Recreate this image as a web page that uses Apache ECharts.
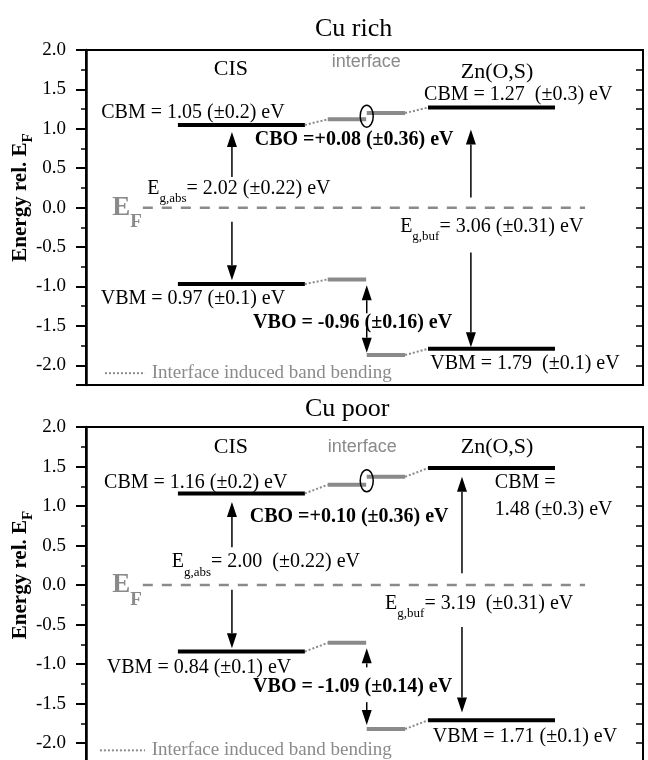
<!DOCTYPE html>
<html><head><meta charset="utf-8">
<script src="https://cdn.jsdelivr.net/npm/echarts@6/dist/echarts.min.js"></script>
<style>html,body{margin:0;padding:0;overflow:hidden;background:#fff}#c{width:648px;height:770px}</style>
</head><body><div id="c"></div>
<script>
// ---------- data ----------
const panelTitles = ['Cu rich', 'Cu poor'];
const yMin = -2.25, yMax = 2.0;
const cisCBM = [1.05, 1.16];
const cisVBM = [-0.97, -0.84];
const znCBM = [1.27, 1.48];
const znVBM = [-1.79, -1.71];
const ifCB1 = [1.12, 1.27];   // interface CB, absorber side (bent)
const ifCB2 = [1.20, 1.37];   // interface CB, buffer side (bent)
const ifVB1 = [-0.91, -0.73];
const ifVB2 = [-1.87, -1.82];
// arrows [from, to] in energy
const cisArrowUp = [[0.39, 0.96], [0.48, 1.05]];
const cisArrowDown = [[-0.18, -0.92], [-0.06, -0.80]];
const znArrowUp = [[0.13, 0.99], [0.15, 1.37]];
const znArrowDown = [[-0.57, -1.77], [-0.53, -1.61]];
const vboArrowUp = [[-1.34, -0.985], [-1.04, -0.80]];
const vboArrowDown = [[-1.52, -1.84], [-1.48, -1.77]];
// texts
const cisCbmText = ['CBM = 1.05 (±0.2) eV', 'CBM = 1.16 (±0.2) eV'];
const cisVbmText = ['VBM = 0.97 (±0.1) eV', 'VBM = 0.84 (±0.1) eV'];
const znCbmText = ['CBM = 1.27  (±0.3) eV', 'CBM =\n1.48 (±0.3) eV'];
const znVbmText = ['VBM = 1.79  (±0.1) eV', 'VBM = 1.71 (±0.1) eV'];
const cboText = ['CBO =+0.08 (±0.36) eV', 'CBO =+0.10 (±0.36) eV'];
const vboText = ['VBO = -0.96 (±0.16) eV', 'VBO = -1.09 (±0.14) eV'];
const egAbsText = ['= 2.02 (±0.22) eV', '= 2.00  (±0.22) eV'];
const egBufText = ['= 3.06 (±0.31) eV', '= 3.19  (±0.31) eV'];
const legendText = 'Interface induced band bending';

// ---------- layout (x in 0..100 schematic units) ----------
const X = {cisL: 16.5, cisR: 39.3, if1L: 43.4, if1R: 50.3, if2L: 50.4, if2R: 57.3,
           znL: 61.4, znR: 84.2, cisArrow: 26.2, ifArrow: 50.4, znArrow: [69.1, 67.5],
           efL: 10.2, efR: 89.6};
const LBL = [
  {cis: [26.0, 1.75], iface: [50.3, 1.85], zn: [73.8, 1.72], cisCbm: [19.2, 1.20], znCbm: [77.6, 1.43, 'center'],
   cbo: [30.3, 0.86], egAbs: [11.0, 0.24], ef: [4.7, 0], egBuf: [56.4, -0.24], cisVbm: [19.2, -1.15],
   vbo: [30.0, -1.455], znVbm: [78.8, -1.975], legend: [3.4, 10.6, 11.8, -2.10]},
  {cis: [26.0, 1.75], iface: [49.6, 1.75], zn: [73.8, 1.75], cisCbm: [19.7, 1.30], znCbm: [73.4, 1.12, 'left'],
   cbo: [29.4, 0.86], egAbs: [15.4, 0.29], ef: [4.7, 0], egBuf: [53.7, -0.23], cisVbm: [20.3, -1.04],
   vbo: [30.0, -1.29], znVbm: [78.8, -1.92], legend: [2.5, 10.6, 11.8, -2.09]}
];
const FONT = 'Liberation Serif';
const GRAY = '#8a8a8a';

function makeRender(p) {
  return function (params, api) {
    const ch = [];
    const pt = (x, y) => api.coord([x, y]);
    function seg(x1, y1, x2, y2, stroke, lw, dash) {
      const a = pt(x1, y1), b = pt(x2, y2);
      const style = {stroke: stroke, lineWidth: lw, fill: null};
      if (dash) style.lineDash = dash;
      ch.push({type: 'line', shape: {x1: a[0], y1: a[1], x2: b[0], y2: b[1]}, style: style});
    }
    function arrow(x, yr, lw) {
      const a = pt(x, yr[0]), b = pt(x, yr[1]);
      const dir = b[1] > a[1] ? 1 : -1;
      const L = 15, W = 5;
      ch.push({type: 'line', shape: {x1: a[0], y1: a[1], x2: b[0], y2: b[1] - dir * L},
               style: {stroke: '#000', lineWidth: lw}});
      ch.push({type: 'polygon', shape: {points: [[b[0], b[1]], [b[0] - W, b[1] - dir * L], [b[0] + W, b[1] - dir * L]]},
               style: {fill: '#000'}});
    }
    function text(pos, str, st) {
      const a = pt(pos[0], pos[1]);
      ch.push({type: 'text', x: a[0], y: a[1], style: Object.assign({
        text: str, fill: '#000', fontFamily: FONT, fontSize: 20, align: 'center', verticalAlign: 'middle'}, st || {})});
    }
    const L = LBL[p];
    // Fermi level
    seg(X.efL, 0, X.efR, 0, GRAY, 2.5, [10, 9]);
    // band levels
    seg(X.cisL, cisCBM[p], X.cisR, cisCBM[p], '#000', 4);
    seg(X.cisL, cisVBM[p], X.cisR, cisVBM[p], '#000', 4);
    seg(X.znL, znCBM[p], X.znR, znCBM[p], '#000', 4);
    seg(X.znL, znVBM[p], X.znR, znVBM[p], '#000', 4);
    // band bending connectors
    seg(X.cisR, cisCBM[p], X.if1L, ifCB1[p], GRAY, 2, [2, 2]);
    seg(X.if2R, ifCB2[p], X.znL, znCBM[p], GRAY, 2, [2, 2]);
    seg(X.cisR, cisVBM[p], X.if1L, ifVB1[p], GRAY, 2, [2, 2]);
    seg(X.if2R, ifVB2[p], X.znL, znVBM[p], GRAY, 2, [2, 2]);
    // interface levels
    seg(X.if1L, ifCB1[p], X.if1R, ifCB1[p], GRAY, 4);
    seg(X.if2L, ifCB2[p], X.if2R, ifCB2[p], GRAY, 4);
    seg(X.if1L, ifVB1[p], X.if1R, ifVB1[p], GRAY, 4);
    seg(X.if2L, ifVB2[p], X.if2R, ifVB2[p], GRAY, 4);
    // ellipse at CB junction
    const ec = pt(X.ifArrow, (ifCB1[p] + ifCB2[p]) / 2);
    ch.push({type: 'ellipse', shape: {cx: ec[0], cy: ec[1], rx: 6.5, ry: 11}, style: {fill: null, stroke: '#000', lineWidth: 1.5}});
    // arrows
    arrow(X.cisArrow, cisArrowUp[p], 1.5);
    arrow(X.cisArrow, cisArrowDown[p], 1.5);
    arrow(X.znArrow[p], znArrowUp[p], 1.5);
    arrow(X.znArrow[p], znArrowDown[p], 1.5);
    arrow(X.ifArrow, vboArrowUp[p], 1.5);
    arrow(X.ifArrow, vboArrowDown[p], 1.5);
    // legend
    seg(L.legend[0], L.legend[3], L.legend[1], L.legend[3], GRAY, 2, [2, 2]);
    text([L.legend[2], L.legend[3]], legendText, {align: 'left', fill: GRAY, fontSize: 19});
    // labels
    text(L.cis, 'CIS', {fontSize: 22});
    text(L.zn, 'Zn(O,S)', {fontSize: 22});
    text(L.iface, 'interface', {fontFamily: 'Liberation Sans', fontSize: 18, fill: GRAY});
    text(L.cisCbm, cisCbmText[p]);
    text(L.znCbm, znCbmText[p], {align: L.znCbm[2], lineHeight: 27});
    text(L.cisVbm, cisVbmText[p]);
    text(L.znVbm, znVbmText[p]);
    text(L.cbo, cboText[p], {align: 'left', fontWeight: 'bold'});
    text(L.vbo, vboText[p], {align: 'left', fontWeight: 'bold'});
    const subRich = {
      m: {fontFamily: FONT, fontSize: 20, lineHeight: 22, fill: '#000'},
      s: {fontFamily: FONT, fontSize: 13, lineHeight: 14, padding: [20, 0, 0, 0], fill: '#000'}
    };
    text(L.egAbs, '{m|E}{s|g,abs}{m|' + egAbsText[p] + '}', {align: 'left', rich: subRich});
    text(L.egBuf, '{m|E}{s|g,buf}{m|' + egBufText[p] + '}', {align: 'left', rich: subRich});
    text(L.ef, '{e|E}{f|F}', {align: 'left', rich: {
      e: {fontFamily: FONT, fontSize: 27, fontWeight: 'bold', lineHeight: 28, fill: GRAY},
      f: {fontFamily: FONT, fontSize: 19, fontWeight: 'bold', lineHeight: 20, padding: [29, 0, 0, 0], fill: GRAY}
    }});
    return {type: 'group', children: ch};
  };
}

const grids = [
  {left: 86, top: 50, width: 557, height: 335},
  {left: 86, top: 427, width: 557, height: 336}
];
const titleLeft = [315, 305], titleTop = [16, 396];

const yAxes = [], xAxes = [], series = [], titles = [];
const tickFmt = v => (Math.abs(v * 2 - Math.round(v * 2)) < 1e-6 ? v.toFixed(1) : '');
grids.forEach((g, i) => {
  Object.assign(g, {show: true, borderColor: '#000', borderWidth: 2, backgroundColor: 'transparent',
    containLabel: false, outerBoundsMode: 'none'});
  titles.push({text: panelTitles[i], left: titleLeft[i], top: titleTop[i], padding: 0,
    textStyle: {fontFamily: FONT, fontSize: 26, fontWeight: 'normal', color: '#000'}});
  xAxes.push({gridIndex: i, type: 'value', min: 0, max: 100, show: false});
  yAxes.push({gridIndex: i, type: 'value', position: 'left', min: yMin, max: yMax, splitNumber: 8,
    axisLine: {show: true, onZero: false, lineStyle: {color: '#000', width: 2.5}},
    axisTick: {show: true, inside: false, length: 10, lineStyle: {color: '#000', width: 2}},
    axisLabel: {show: true, margin: 20, fontFamily: FONT, fontSize: 19, color: '#000', formatter: tickFmt},
    splitLine: {show: false},
    name: '{b|Energy rel. E}{s|F}', nameLocation: 'middle', nameRotate: 90, nameGap: 54,
    nameMoveOverlap: false,
    nameTextStyle: {padding: [0, 0, 0, 40], rich: {
      b: {fontFamily: FONT, fontSize: 21, fontWeight: 'bold', color: '#000', lineHeight: 22},
      s: {fontFamily: FONT, fontSize: 15, fontWeight: 'bold', color: '#000', lineHeight: 16, padding: [14, 0, 0, 0]}
    }}
  });
  yAxes.push({gridIndex: i, type: 'value', position: 'left', min: yMin, max: yMax, interval: 0.25,
    axisLine: {show: false}, axisTick: {show: true, inside: false, length: 5, lineStyle: {color: '#000', width: 1.5}},
    axisLabel: {show: false}, splitLine: {show: false}});
  yAxes.push({gridIndex: i, type: 'value', position: 'right', min: yMin, max: yMax, interval: 0.25,
    axisLine: {show: true, onZero: false, lineStyle: {color: '#000', width: 2}},
    axisTick: {show: true, inside: true, length: 7, lineStyle: {color: '#000', width: 1.5}},
    axisLabel: {show: false}, splitLine: {show: false}});
  series.push({type: 'custom', xAxisIndex: i, yAxisIndex: i * 3, clip: false, silent: true,
    data: [[0, 0]], renderItem: makeRender(i)});
});

const chart = echarts.init(document.getElementById('c'));
chart.setOption({
  animation: false,
  backgroundColor: '#fff',
  title: titles,
  grid: grids,
  xAxis: xAxes,
  yAxis: yAxes,
  series: series
});
</script></body></html>
